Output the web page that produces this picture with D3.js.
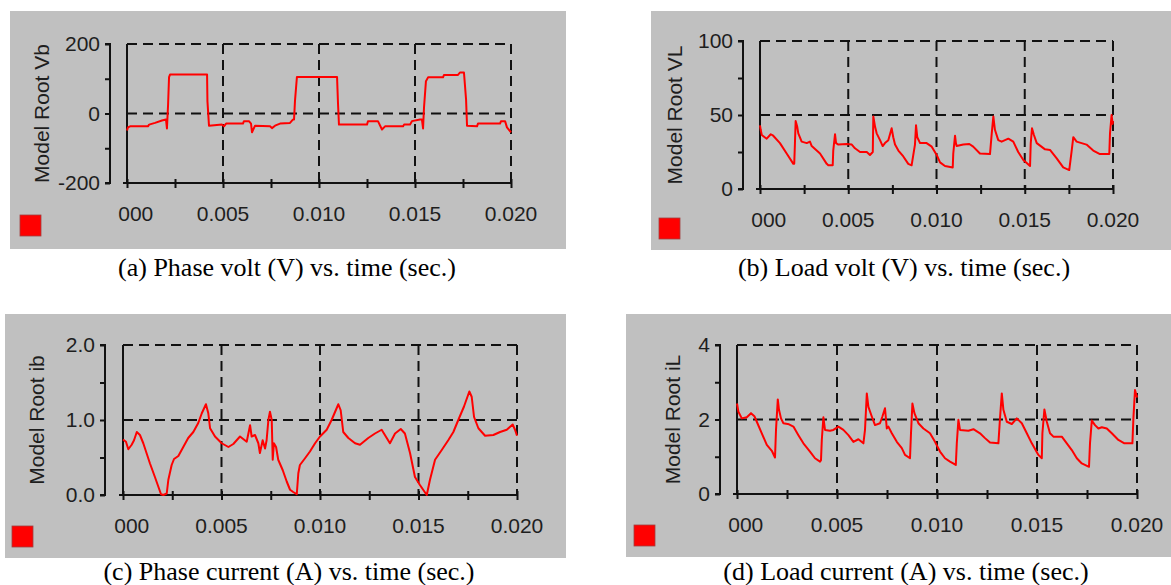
<!DOCTYPE html>
<html>
<head>
<meta charset="utf-8">
<script src="https://cdn.jsdelivr.net/npm/d3@7"></script>
<style>
  body { margin: 0; background: #fff; }
  svg { display: block; }
  .tick-label { font-family: "Liberation Sans", Arial, sans-serif; font-size: 21px; fill: #1e1e1e; }
  .caption { font-family: "Liberation Serif", "Times New Roman", serif; font-size: 26px; fill: #000; }
</style>
</head>
<body>
<svg id="chart"></svg>
<script>
const W = 1171, H = 585

// time ticks (s) and the labels printed under them
const timeTicks = [0, 0.005, 0.010, 0.015, 0.020]
const timeLabels = ['000', '0.005', '0.010', '0.015', '0.020']
const timeMinor = [0, 0.0025, 0.005, 0.0075, 0.010, 0.0125, 0.015, 0.0175, 0.020]

// (a) phase voltage Vb  [t, V]
const phaseVolt = [
  [0, -49], [0.00005, -40], [0.00016, -37], [0.00109, -37], [0.00115, -32], [0.00146, -27],
  [0.00182, -20], [0.00203, -17], [0.00208, -43], [0.00214, 26], [0.00219, 105], [0.00224, 112],
  [0.00417, 112], [0.00419, 35], [0.00427, -35], [0.00495, -32], [0.00505, -37], [0.00516, -29],
  [0.00604, -29], [0.00609, -22], [0.00635, -22], [0.00646, -29], [0.00651, -54], [0.00667, -35],
  [0.00745, -37], [0.00755, -42], [0.00771, -35], [0.00797, -29], [0.00849, -27], [0.00865, -17],
  [0.0087, -17], [0.00875, 37], [0.00885, 105], [0.01094, 105], [0.01099, 29], [0.01104, -32],
  [0.0125, -32], [0.01255, -22], [0.01307, -22], [0.01328, -46], [0.01344, -37], [0.01438, -37],
  [0.01443, -32], [0.01474, -32], [0.01484, -22], [0.01526, -17], [0.01536, -17], [0.01542, -43],
  [0.01547, 18], [0.01557, 93], [0.01568, 104], [0.01646, 104], [0.01651, 111], [0.01724, 111],
  [0.01734, 118], [0.01755, 118], [0.01766, 40], [0.01771, -35], [0.01823, -37], [0.01828, -29],
  [0.01943, -29], [0.01948, -22], [0.01969, -22], [0.01979, -40], [0.02, -54]
]

// (b) load voltage VL  [t, V]
const loadVolt = [
  [0, 43], [0.00004, 40], [0.0001, 36.5], [0.00038, 34], [0.00061, 37], [0.00075, 36],
  [0.00113, 31], [0.00151, 24], [0.00189, 17], [0.00194, 17], [0.00198, 31], [0.00202, 46],
  [0.00211, 42], [0.00217, 37.6], [0.00236, 32], [0.00265, 31], [0.00283, 32], [0.00293, 29],
  [0.0034, 24], [0.00378, 17], [0.00387, 16], [0.00412, 16], [0.00415, 26], [0.00425, 37],
  [0.00431, 31], [0.00444, 30], [0.00491, 30.4], [0.0052, 30], [0.00538, 27.5], [0.00567, 25],
  [0.00605, 25], [0.00623, 23], [0.00639, 25], [0.00642, 49], [0.00652, 42], [0.00661, 37.6],
  [0.0068, 33], [0.00695, 29], [0.00708, 31], [0.00727, 33], [0.00746, 41], [0.00755, 35],
  [0.00765, 30], [0.00784, 26], [0.00812, 22], [0.0084, 17], [0.00859, 16], [0.00878, 30],
  [0.00884, 43], [0.00891, 35], [0.00907, 31], [0.00944, 31], [0.00973, 28.6], [0.01001, 23],
  [0.0102, 18], [0.01048, 15.5], [0.01092, 14.6], [0.01095, 24], [0.01105, 36], [0.0111, 31],
  [0.01114, 29], [0.01152, 30], [0.01186, 30.4], [0.01208, 28.6], [0.01246, 24], [0.01303, 23.6],
  [0.01313, 37.6], [0.01322, 49], [0.01331, 40], [0.0135, 33], [0.01369, 32], [0.01407, 34],
  [0.01435, 32], [0.01463, 25], [0.01492, 19.6], [0.0153, 15.5], [0.01534, 31], [0.01541, 41],
  [0.01552, 36.5], [0.01568, 31], [0.01615, 26.8], [0.01643, 26.4], [0.01681, 20.7], [0.01718, 14.6],
  [0.01752, 12.8], [0.01766, 26], [0.01775, 35], [0.01794, 32], [0.01822, 31], [0.0185, 30],
  [0.01888, 26], [0.01926, 23.6], [0.01979, 23.6], [0.01983, 37.6], [0.01992, 50], [0.01998, 44],
  [0.02, 46]
]

// (c) phase current ib  [t, A]
const phaseCurrent = [
  [0, 0.74], [0.00015, 0.71], [0.00027, 0.61], [0.00044, 0.67], [0.00056, 0.73], [0.0007, 0.84],
  [0.00086, 0.8], [0.00103, 0.69], [0.00137, 0.42], [0.00162, 0.24], [0.00193, 0.01], [0.00205, 0],
  [0.00222, 0.02], [0.0023, 0.2], [0.00247, 0.4], [0.00259, 0.48], [0.00281, 0.52], [0.00306, 0.64],
  [0.00331, 0.76], [0.00357, 0.84], [0.00382, 0.96], [0.004, 1.09], [0.00421, 1.21], [0.00433, 1.09],
  [0.00442, 0.89], [0.00467, 0.78], [0.00501, 0.69], [0.00535, 0.64], [0.0056, 0.68], [0.00594, 0.78],
  [0.00628, 0.71], [0.00645, 0.93], [0.00653, 0.78], [0.0067, 0.8], [0.00687, 0.69], [0.00695, 0.56],
  [0.00709, 0.73], [0.00721, 0.62], [0.00729, 0.73], [0.00738, 1.0], [0.00746, 1.11], [0.00755, 1.0],
  [0.0076, 0.47], [0.00766, 0.69], [0.00777, 0.64], [0.00788, 0.47], [0.00811, 0.33], [0.00831, 0.18],
  [0.00848, 0.07], [0.00864, 0.04], [0.00882, 0.01], [0.0089, 0.29], [0.00898, 0.4], [0.00924, 0.49],
  [0.00949, 0.58], [0.00975, 0.69], [0.01, 0.78], [0.01034, 0.87], [0.01059, 1.0], [0.01093, 1.21],
  [0.01105, 1.13], [0.01118, 0.84], [0.01144, 0.76], [0.01178, 0.69], [0.01203, 0.67], [0.01245, 0.76],
  [0.01279, 0.82], [0.01313, 0.87], [0.01355, 0.69], [0.01381, 0.82], [0.0141, 0.88], [0.01431, 0.82],
  [0.01457, 0.56], [0.01482, 0.24], [0.01508, 0.13], [0.01542, 0], [0.01558, 0.2], [0.01584, 0.47],
  [0.01618, 0.6], [0.01651, 0.73], [0.01677, 0.84], [0.01702, 1.0], [0.01731, 1.18], [0.01758, 1.38],
  [0.0177, 1.31], [0.01782, 1.04], [0.01804, 0.89], [0.01838, 0.79], [0.0188, 0.8], [0.01914, 0.84],
  [0.01948, 0.87], [0.01978, 0.94], [0.0199, 0.87], [0.02, 0.79]
]

// (d) load current iL  [t, A]
const loadCurrent = [
  [0, 2.43], [0.00007, 2.21], [0.00024, 2.03], [0.00049, 2.06], [0.0007, 2.17], [0.00087, 2.09],
  [0.00099, 1.94], [0.00124, 1.63], [0.00149, 1.32], [0.00174, 1.16], [0.0019, 0.98], [0.00195, 1.72],
  [0.00204, 2.54], [0.0021, 2.26], [0.0022, 2.03], [0.00232, 1.9], [0.0026, 1.87], [0.00282, 1.81],
  [0.00307, 1.58], [0.00332, 1.36], [0.00365, 1.14], [0.0039, 0.96], [0.00415, 0.87], [0.0042, 0.91],
  [0.00424, 1.45], [0.00432, 2.06], [0.0044, 1.72], [0.00465, 1.7], [0.00482, 1.72], [0.00507, 1.81],
  [0.00532, 1.72], [0.00557, 1.58], [0.00582, 1.4], [0.00607, 1.47], [0.00632, 1.36], [0.0064, 1.72],
  [0.00649, 2.7], [0.00657, 2.34], [0.00674, 2.08], [0.0069, 1.85], [0.00715, 1.9], [0.00727, 2.08],
  [0.0074, 2.3], [0.00749, 1.76], [0.00757, 1.81], [0.00774, 1.63], [0.00799, 1.4], [0.00824, 1.23],
  [0.0084, 1.05], [0.00865, 0.96], [0.0087, 1.63], [0.00877, 2.43], [0.00887, 2.17], [0.00907, 1.9],
  [0.00932, 1.76], [0.00965, 1.63], [0.0099, 1.4], [0.01015, 1.14], [0.0104, 0.96], [0.01065, 0.87],
  [0.01094, 0.78], [0.01099, 1.36], [0.01107, 1.99], [0.01115, 1.72], [0.01157, 1.7], [0.01182, 1.74],
  [0.01215, 1.63], [0.0124, 1.5], [0.01265, 1.38], [0.01307, 1.36], [0.01315, 2.03], [0.01324, 2.7],
  [0.01332, 2.26], [0.01349, 1.94], [0.01374, 1.88], [0.01399, 2.03], [0.01424, 1.9], [0.01449, 1.63],
  [0.01474, 1.36], [0.01507, 1.05], [0.01524, 0.96], [0.01527, 1.63], [0.01537, 2.27], [0.01549, 1.94],
  [0.01565, 1.63], [0.01582, 1.54], [0.01624, 1.54], [0.01649, 1.36], [0.01674, 1.18], [0.01699, 0.96],
  [0.01724, 0.82], [0.0176, 0.73], [0.01765, 1.36], [0.01774, 1.97], [0.0179, 1.85], [0.01807, 1.76],
  [0.01824, 1.79], [0.01849, 1.76], [0.01874, 1.63], [0.01907, 1.45], [0.01937, 1.36], [0.01977, 1.36],
  [0.01982, 2.03], [0.0199, 2.79], [0.01999, 2.61], [0.02, 2.65]
]

// y ticks: all minor ticks, then the ones that carry a label
const vbTicks = [-200, -100, 0, 100, 200], vbLabels = ['-200', '0', '200']
const vlTicks = [0, 25, 50, 75, 100], vlLabels = ['0', '50', '100']
const ibTicks = [0, 0.5, 1, 1.5, 2], ibLabels = ['0.0', '1.0', '2.0']
const ilTicks = [0, 1, 2, 3, 4], ilLabels = ['0', '2', '4']

const panels = [
  {data: phaseVolt, name: 'Model Root Vb', yDomain: [-200, 200], yTicks: vbTicks, yLabels: vbLabels,
   caption: '(a) Phase volt (V) vs. time (sec.)',
   bg: [10, 11, 556, 238], plot: [127, 511, 44, 183], axisX: 110, titleX: 42, legend: [20, 215], capX: 287, capY: 276},
  {data: loadVolt, name: 'Model Root VL', yDomain: [0, 100], yTicks: vlTicks, yLabels: vlLabels,
   caption: '(b) Load volt (V) vs. time (sec.)',
   bg: [651, 11, 520, 239], plot: [760, 1113, 41, 189], axisX: 743, titleX: 675, legend: [659, 218], capX: 904, capY: 276},
  {data: phaseCurrent, name: 'Model Root ib', yDomain: [0, 2], yTicks: ibTicks, yLabels: ibLabels,
   caption: '(c) Phase current (A) vs. time (sec.)',
   bg: [5, 314, 561, 244], plot: [123, 517, 345, 495], axisX: 105, titleX: 37, legend: [12, 526], capX: 289, capY: 580},
  {data: loadCurrent, name: 'Model Root iL', yDomain: [0, 4], yTicks: ilTicks, yLabels: ilLabels,
   caption: '(d) Load current (A) vs. time (sec.)',
   bg: [626, 314, 545, 243], plot: [737, 1137, 345, 494], axisX: 720, titleX: 673, legend: [634, 525], capX: 906, capY: 580}
]

const svg = d3.select('#chart').attr('width', W).attr('height', H)
svg.append('rect').attr('width', W).attr('height', H).attr('fill', '#fff')

function drawPanel(p) {
  const g = svg.append('g')
  const [left, right, top, bottom] = p.plot
  const x = d3.scaleLinear().domain([0, 0.02]).range([left, right])
  const y = d3.scaleLinear().domain(p.yDomain).range([bottom, top])

  g.append('rect')
    .attr('x', p.bg[0]).attr('y', p.bg[1])
    .attr('width', p.bg[2]).attr('height', p.bg[3])
    .attr('fill', '#c0c0c0')

  // dashed grid: top line + labelled middle value, and every 0.005 s
  const hGrid = p.yLabels.map(Number).filter(v => v !== p.yDomain[0])
  g.selectAll('line.hgrid').data(hGrid).join('line')
    .attr('x1', left).attr('x2', right)
    .attr('y1', d => y(d)).attr('y2', d => y(d))
    .attr('stroke', '#111').attr('stroke-width', 2).attr('stroke-dasharray', '10,6')
  g.selectAll('line.vgrid').data(timeTicks.slice(1)).join('line')
    .attr('x1', d => x(d)).attr('x2', d => x(d))
    .attr('y1', top).attr('y2', bottom)
    .attr('stroke', '#111').attr('stroke-width', 2).attr('stroke-dasharray', '10,6')

  // outer y axis (ticks pointing left)
  const yAxis = d3.axisLeft(y).tickValues(p.yTicks).tickSize(5).tickFormat('')
  g.append('g').attr('transform', `translate(${p.axisX},0)`).call(yAxis)
    .call(a => a.select('.domain').attr('d', `M${-5},${y(p.yDomain[1])}H0V${y(p.yDomain[0])}H-5`))
    .call(a => a.selectAll('path, line').attr('stroke', '#111').attr('stroke-width', 2))

  g.selectAll('text.ylab').data(p.yLabels).join('text')
    .attr('class', 'tick-label')
    .attr('x', p.axisX - 10).attr('y', d => y(+d)).attr('dy', '0.35em')
    .attr('text-anchor', 'end')
    .text(d => d)

  // inner frame: left solid line and x axis with crossing ticks
  g.append('line')
    .attr('x1', left).attr('x2', left).attr('y1', top).attr('y2', bottom)
    .attr('stroke', '#111').attr('stroke-width', 2)
  const xAxis = d3.axisBottom(x).tickValues(timeMinor).tickSizeInner(5).tickSizeOuter(0).tickFormat('')
  g.append('g').attr('transform', `translate(0,${bottom})`).call(xAxis)
    .call(a => a.select('.domain').attr('d', `M${left - 4},0H${right}`))
    .call(a => a.selectAll('.tick line').attr('y1', -4))
    .call(a => a.selectAll('path, line').attr('stroke', '#111').attr('stroke-width', 2))

  // "0.000" is clipped to "000" in the source, so labels are end-aligned
  const labels = g.selectAll('text.xlab').data(timeTicks).join('text')
    .attr('class', 'tick-label')
    .attr('y', bottom + 38)
    .attr('text-anchor', 'end')
    .text((d, i) => timeLabels[i])
  const half = labels.filter((d, i) => i === 1).node().getComputedTextLength() / 2
  labels.attr('x', d => x(d) + half)

  // y title
  g.append('text')
    .attr('class', 'tick-label')
    .attr('transform', `translate(${p.titleX},${(top + bottom) / 2}) rotate(-90)`)
    .attr('text-anchor', 'middle').attr('dy', '0.35em')
    .text(p.name)

  // signal
  g.append('path')
    .datum(p.data)
    .attr('fill', 'none').attr('stroke', '#ff0000').attr('stroke-width', 2)
    .attr('stroke-linejoin', 'round')
    .attr('d', d3.line().x(d => x(d[0])).y(d => y(d[1])))

  // legend swatch
  g.append('rect')
    .attr('x', p.legend[0]).attr('y', p.legend[1])
    .attr('width', 21).attr('height', 21)
    .attr('fill', '#ff0000').attr('stroke', '#a04040').attr('stroke-width', 0.8)

  svg.append('text')
    .attr('class', 'caption')
    .attr('x', p.capX).attr('y', p.capY)
    .attr('text-anchor', 'middle')
    .text(p.caption)
}

panels.forEach(drawPanel)
</script>
</body>
</html>
